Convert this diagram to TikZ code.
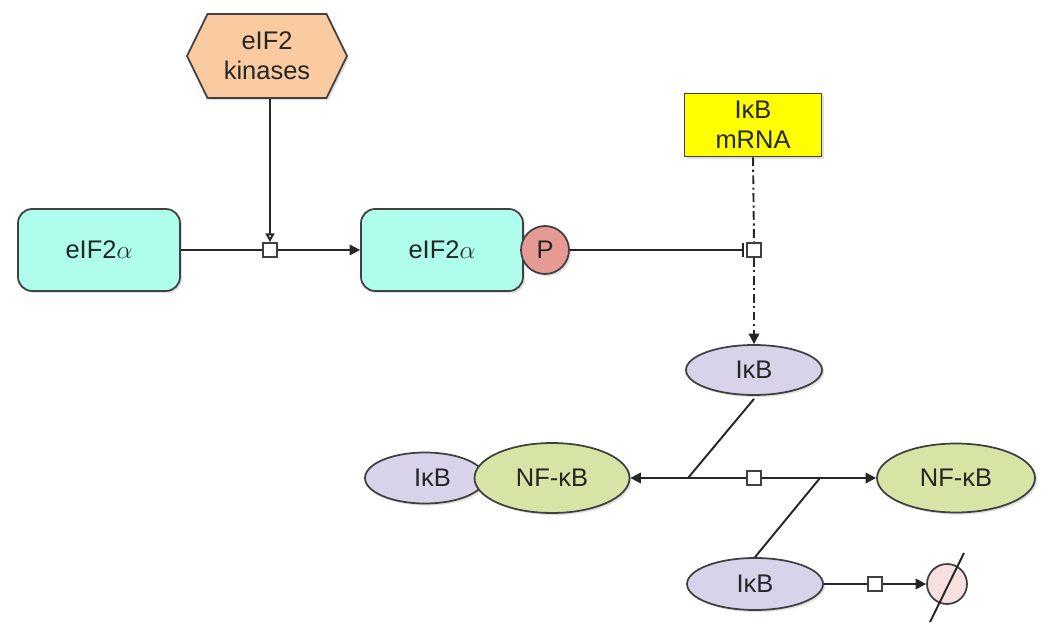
\documentclass[tikz,border=0pt]{standalone}
\usepackage{fontspec}
\setmainfont{Liberation Sans}
\usetikzlibrary{arrows.meta,shapes.geometric,shapes.symbols,shadows}
\definecolor{aquab}{HTML}{AFFDEB}
\definecolor{peach}{HTML}{FACBA0}
\definecolor{yelw}{HTML}{FFFF00}
\definecolor{salm}{HTML}{E59A94}
\definecolor{lav}{HTML}{D8D3EA}
\definecolor{grn}{HTML}{D6E4A6}
\definecolor{pnk}{HTML}{F7E0E0}
\begin{document}
\begin{tikzpicture}[x=0.02cm,y=-0.02cm,
  font=\fontsize{14.5}{17}\selectfont,
  base/.style={draw=black!75, line width=1pt, align=center, text=black!85, inner sep=1pt},
  shad/.style={drop shadow={opacity=0.25,shadow xshift=1.2pt,shadow yshift=-1.2pt}},
  prot/.style={base, shad, rounded corners=8pt, fill=aquab, minimum width=3.24cm, minimum height=1.64cm},
  ell/.style={base, shad, ellipse},
  sq/.style={base, fill=white, minimum size=0.28cm, inner sep=0pt},
  conn/.style={line width=1.1pt, draw=black!85},
  arr/.style={conn, -{Triangle[length=6pt,width=6pt]}},
  dashdot/.style={dash pattern=on 5pt off 2pt on 1.2pt off 2pt}
]
\useasboundingbox (0,0) rectangle (1050,644);

% nodes
\node[base, shad, signal, signal to=east and west, signal pointer angle=128, fill=peach,
      minimum width=3.2cm, minimum height=1.68cm] (kin) at (267,56) {eIF2\\kinases};
\node[prot] (e1) at (99,250) {eIF2$\alpha$};
\node[prot] (e2) at (442,250) {eIF2$\alpha$};
\node[base, shad, circle, fill=salm, minimum size=0.96cm] (P) at (545,250) {P};
\node[base, shad, rectangle, fill=yelw, minimum width=2.74cm, minimum height=1.26cm] (mrna) at (753,125) {IκB\\mRNA};
\node[sq] (s1) at (270,250) {};
\node[sq] (s2) at (754,250) {};
\node[ell, fill=lav, minimum width=2.72cm, minimum height=1.0cm] (ikb1) at (754,370) {IκB};
\node[ell, fill=lav, minimum width=2.4cm, minimum height=1.02cm] (ikbc) at (425,478) {\hspace*{0.3cm}IκB};
\node[ell, fill=grn, minimum width=3.1cm, minimum height=1.4cm] (nfc) at (552,478) {NF-κB};
\node[sq] (s3) at (754,478) {};
\node[ell, fill=grn, minimum width=3.16cm, minimum height=1.38cm] (nf2) at (956,478) {NF-κB};
\node[ell, fill=lav, minimum width=2.72cm, minimum height=1.04cm] (ikb2) at (755,584) {IκB};
\node[sq] (s4) at (875,584) {};
\node[base, circle, fill=pnk, minimum size=0.8cm] (deg) at (947,584) {};
\coordinate (j1) at (688,478);
\coordinate (j2) at (820,478);

% connectors
\draw[conn, -{Triangle[open,length=5pt,width=5pt]}] (kin.south -| s1) -- (s1.north);
\draw[conn] (e1.east) -- (s1.west);
\draw[arr] (s1.east) -- (e2.west);
\draw[conn, -{Bar[width=8pt]}, shorten >=1.5pt] (P.east) -- (s2.west);
\draw[conn, dashdot] (mrna.south) -- (s2.north);
\draw[arr, dashdot] (s2.south) -- (ikb1.north);
\draw[conn] ([yshift=-0.06cm]ikb1.south) -- (j1);
\draw[arr] (s3.west) -- (nfc.east);
\draw[arr] (s3.east) -- (nf2.west);
\draw[conn] (j2) -- (ikb2.north);
\draw[conn] (ikb2.east) -- (s4.west);
\draw[arr] (s4.east) -- (deg.west);
\draw[conn] (deg) ++(-17,38) -- ++(34,-69);
\end{tikzpicture}
\end{document}
